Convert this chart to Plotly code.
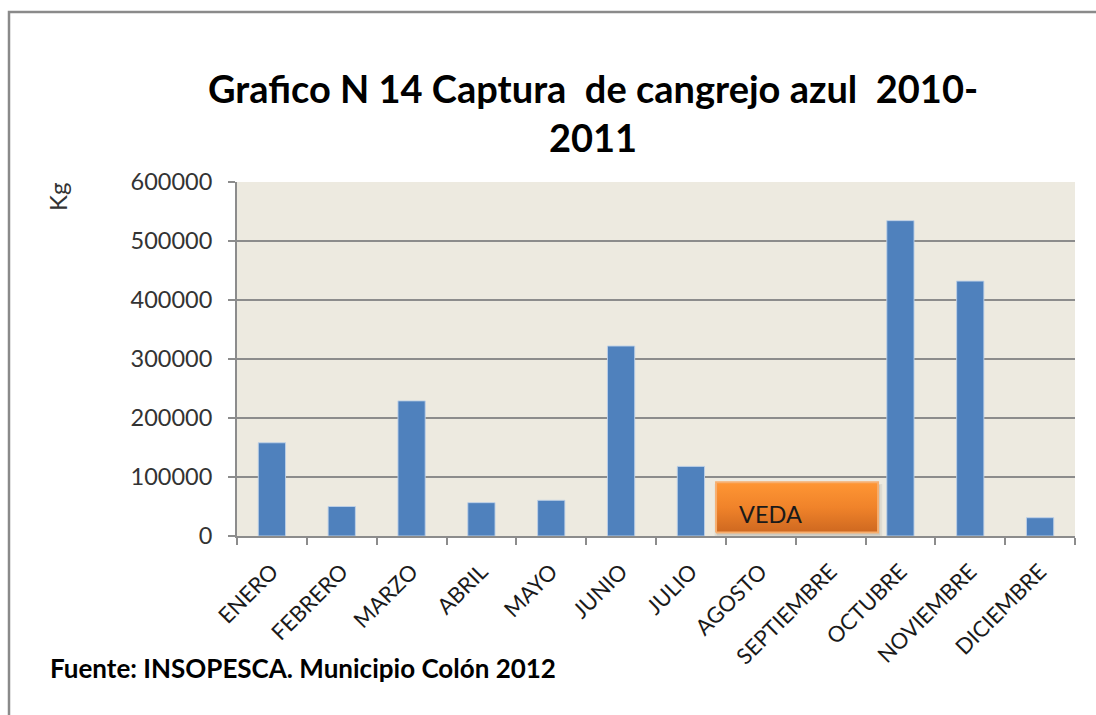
import plotly.graph_objects as go

# Monthly blue crab catch (kg)
months = ["ENERO", "FEBRERO", "MARZO", "ABRIL", "MAYO", "JUNIO", "JULIO",
          "AGOSTO", "SEPTIEMBRE", "OCTUBRE", "NOVIEMBRE", "DICIEMBRE"]
catch_kg = [158000, 50000, 229000, 56500, 60500, 322000, 118000,
            None, None, 534500, 432000, 31000]
y_ticks = [0, 100000, 200000, 300000, 400000, 500000, 600000]

title_line1 = "Grafico N 14 Captura  de cangrejo azul  2010-"
title_line2 = "2011"
y_title = "Kg"
closed_season_label = "VEDA"
source_note = "Fuente: INSOPESCA. Municipio Colón 2012"

W, H = 1096, 715
PL, PR, PT, PB = 237, 1075, 182, 536


def px(x):
    return (x - PL) / (PR - PL)


def py(y):
    return (PB - y) / (PB - PT)


FONT = "Lato"

fig = go.Figure()

fig.add_trace(go.Bar(
    x=months, y=catch_kg,
    marker=dict(color="#4F81BD", line=dict(color="rgba(190,208,232,0.9)", width=1)),
    hoverinfo="x+y", showlegend=False,
))

# Closed-season ("veda") box spanning August–September
bx0, bx1, by0, by1 = 6.36, 8.68, 6000, 91000
fig.add_trace(go.Scatter(
    x=[bx0, bx1, bx1, bx0, bx0], y=[by0, by0, by1, by1, by0],
    xaxis="x2", mode="lines", fill="toself",
    fillgradient=dict(type="vertical",
                      colorscale=[[0, "#CE6820"], [0.5, "#F0832A"], [1, "#FF9634"]]),
    line=dict(color="#F7AE6E", width=2),
    hoverinfo="skip", showlegend=False,
))

shapes = [
    # outer chart border
    dict(type="rect", xref="paper", yref="paper",
         x0=px(9), x1=px(1120), y0=py(740), y1=py(12),
         line=dict(color="#8A8A8A", width=2.5), fillcolor="rgba(0,0,0,0)"),
    # soft shadow under the veda box
    dict(type="rect", xref="x2", yref="y", layer="below",
         x0=bx0 - 0.02, x1=bx1 + 0.06, y0=by0 - 9000, y1=by1 - 3000,
         line=dict(width=0), fillcolor="rgba(0,0,0,0.06)"),
    dict(type="rect", xref="x2", yref="y", layer="below",
         x0=bx0 + 0.01, x1=bx1 + 0.03, y0=by0 - 5000, y1=by1 - 4000,
         line=dict(width=0), fillcolor="rgba(0,0,0,0.08)"),
]

annotations = [
    dict(text=f"<b>{title_line1}</b>", xref="paper", yref="paper",
         x=px(593), y=py(88), xanchor="center", yanchor="middle",
         showarrow=False, font=dict(family=FONT, size=38, color="#000000")),
    dict(text=f"<b>{title_line2}</b>", xref="paper", yref="paper",
         x=px(593), y=py(137), xanchor="center", yanchor="middle",
         showarrow=False, font=dict(family=FONT, size=38, color="#000000")),
    dict(text=y_title, xref="paper", yref="paper",
         x=px(57), y=py(197), xanchor="center", yanchor="middle", textangle=-90,
         showarrow=False, font=dict(family=FONT, size=24, color="#333333")),
    dict(text=closed_season_label, xref="x2", yref="y",
         x=6.66, y=37000, xanchor="left", yanchor="middle",
         showarrow=False, font=dict(family=FONT, size=23.5, color="#1A1A1A")),
    dict(text=f"<b>{source_note}</b>", xref="paper", yref="paper",
         x=px(48), y=py(668), xanchor="left", yanchor="middle",
         showarrow=False, font=dict(family=FONT, size=26, color="#000000")),
]

fig.update_layout(
    width=W, height=H, autosize=False,
    margin=dict(l=PL, r=W - PR, t=PT, b=H - PB, pad=0),
    paper_bgcolor="#FFFFFF",
    plot_bgcolor="#EDEAE0",
    bargap=0.61,
    showlegend=False,
    shapes=shapes,
    annotations=annotations,
    xaxis=dict(
        type="category", tickson="boundaries", ticks="outside", ticklen=7,
        tickcolor="#8C8C8C", tickwidth=1.5, tickangle=-45,
        showline=True, linecolor="#8C8C8C", linewidth=2,
        showgrid=False, ticklabelstandoff=12,
        tickfont=dict(family=FONT, size=22, color="#1A1A1A"),
    ),
    xaxis2=dict(overlaying="x", range=[-0.5, 11.5], visible=False),
    yaxis=dict(
        range=[0, 600000], tickvals=y_ticks, ticktext=[str(v) for v in y_ticks],
        ticks="outside", ticklen=7, tickcolor="#8C8C8C", tickwidth=1.5,
        showline=True, linecolor="#8C8C8C", linewidth=2,
        showgrid=True, gridcolor="#8C8C8C", gridwidth=1.5, zeroline=False,
        ticklabelstandoff=11,
        tickfont=dict(family=FONT, size=23.5, color="#333333"),
    ),
)

fig.write_html("out.html")
